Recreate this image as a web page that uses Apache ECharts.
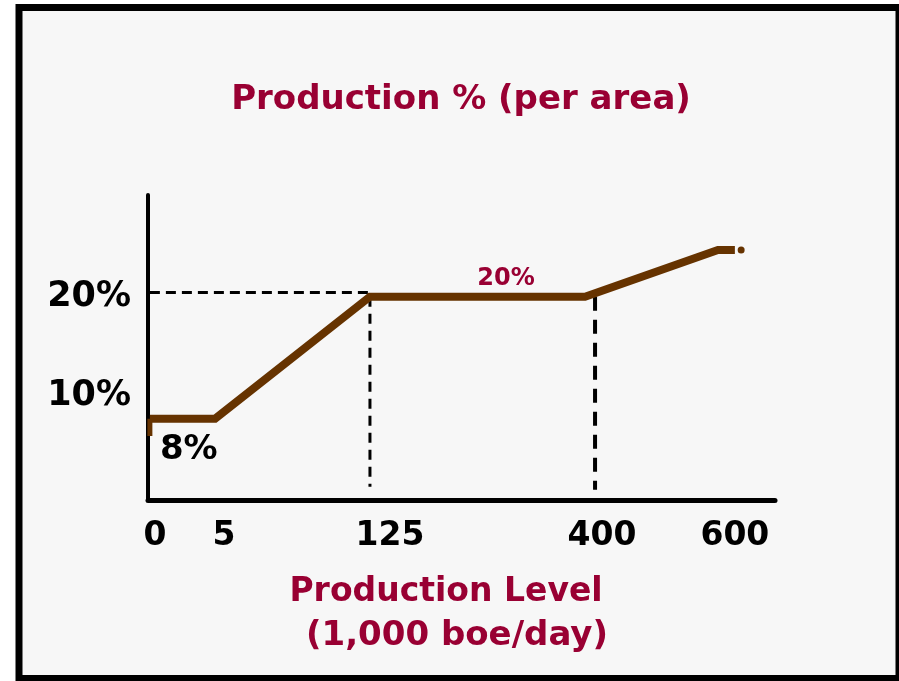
<!DOCTYPE html>
<html>
<head>
<meta charset="utf-8">
<script src="https://cdn.jsdelivr.net/npm/echarts@6/dist/echarts.min.js"></script>
<style>html,body{margin:0;padding:0;background:#fff;}#c{width:899px;height:681px;}</style>
</head>
<body>
<div id="c"></div>
<script>
// Schematic x positions (axis is not to scale) and their labels
const xTickValues = [1.1, 12.1, 38.6, 72.4, 93.6];
const xTickLabels = ['0', '5', '125', '400', '600'];
const yTickValues = [10.2, 20];
const yTickLabels = ['10%', '20%'];
// Production % curve
const lineX = [0.3, 10.7, 35.4, 69.7, 90.9, 93.6];
const lineY = [8, 8, 20, 20, 24.6, 24.6];
// small drop at start
const startTickX = [0.3, 0.3];
const startTickY = [8, 6.3];
// reference dashed lines
const dashH_X = [0.3, 35.4];
const dashH_Y = [20.4, 20.4];
const dashV1_X = [35.4, 35.4];
const dashV1_Y = [20, 1.3];
const dashV2_X = [71.3, 71.3];
const dashV2_Y = [20, 1.0];
// annotations
const annot8 = {x: 6.5, y: 4.9, text: '8%'};
const annot20 = {x: 57.1, y: 21.8, text: '20%'};
const endDot = [94.6, 24.6];

const zip = (a, b) => a.map((v, i) => [v, b[i]]);
const FONT = 'DejaVu Sans';
const RED = '#990033';

const chart = echarts.init(document.getElementById('c'), null, {renderer: 'canvas'});
chart.setOption({
  backgroundColor: '#ffffff',
  animation: false,
  graphic: [{
    type: 'rect', z: -10, silent: true,
    shape: {x: 19, y: 7.5, width: 880, height: 671},
    style: {fill: '#f7f7f7', stroke: '#000', lineWidth: 7}
  }],
  title: [
    {text: 'Production % (per area)', left: 456, top: 78, textAlign: 'center',
     textStyle: {fontFamily: FONT, fontWeight: 'bold', fontSize: 34, color: RED}},
    {text: 'Production Level', left: 441, top: 571, textAlign: 'center',
     textStyle: {fontFamily: FONT, fontWeight: 'bold', fontSize: 33, color: RED}},
    {text: '(1,000 boe/day)', left: 452, top: 614, textAlign: 'center',
     textStyle: {fontFamily: FONT, fontWeight: 'bold', fontSize: 34, color: RED}}
  ],
  grid: {left: 148, right: 124, top: 195, bottom: 181},
  xAxis: {
    type: 'value', min: 0, max: 100,
    axisLine: {show: true, onZero: false, lineStyle: {color: '#000', width: 5}},
    axisTick: {show: false}, splitLine: {show: false},
    axisLabel: {
      customValues: xTickValues,
      formatter: v => { const i = xTickValues.indexOf(v); return i >= 0 ? xTickLabels[i] : ''; },
      fontFamily: FONT, fontWeight: 'bold', fontSize: 33, color: '#000', margin: 20
    }
  },
  yAxis: {
    type: 'value', min: 0, max: 30,
    axisLine: {show: true, onZero: false, lineStyle: {color: '#000', width: 4}},
    axisTick: {show: false}, splitLine: {show: false},
    axisLabel: {
      customValues: yTickValues,
      formatter: v => { const i = yTickValues.indexOf(v); return i >= 0 ? yTickLabels[i] : ''; },
      fontFamily: FONT, fontWeight: 'bold', fontSize: 35, color: '#000', margin: 17
    }
  },
  series: [
    {type: 'line', data: zip(dashH_X, dashH_Y), symbol: 'none', lineStyle: {color: '#000', width: 3, type: [10, 6]}, z: 1},
    {type: 'line', data: zip(dashV1_X, dashV1_Y), symbol: 'none', lineStyle: {color: '#000', width: 3, type: [10, 7]}, z: 1},
    {type: 'line', data: zip(dashV2_X, dashV2_Y), symbol: 'none', lineStyle: {color: '#000', width: 4, type: [14, 9]}, z: 1},
    {type: 'line', data: zip(startTickX, startTickY), symbol: 'none', lineStyle: {color: '#663300', width: 5}, z: 2},
    {type: 'line', data: zip(lineX, lineY), symbol: 'none', lineStyle: {color: '#663300', width: 8, cap: 'butt', join: 'miter'}, z: 3},
    {type: 'scatter', data: [endDot], symbolSize: 7, itemStyle: {color: '#663300', opacity: 1}, z: 3},
    {type: 'scatter', symbolSize: 0, data: [[annot8.x, annot8.y]], itemStyle: {opacity: 1},
     label: {show: true, position: 'inside', formatter: annot8.text, fontFamily: FONT, fontWeight: 'bold', fontSize: 34, color: '#000'}},
    {type: 'scatter', symbolSize: 0, data: [[annot20.x, annot20.y]], itemStyle: {opacity: 1},
     label: {show: true, position: 'inside', formatter: annot20.text, fontFamily: FONT, fontWeight: 'bold', fontSize: 24, color: RED}}
  ]
});
</script>
</body>
</html>
